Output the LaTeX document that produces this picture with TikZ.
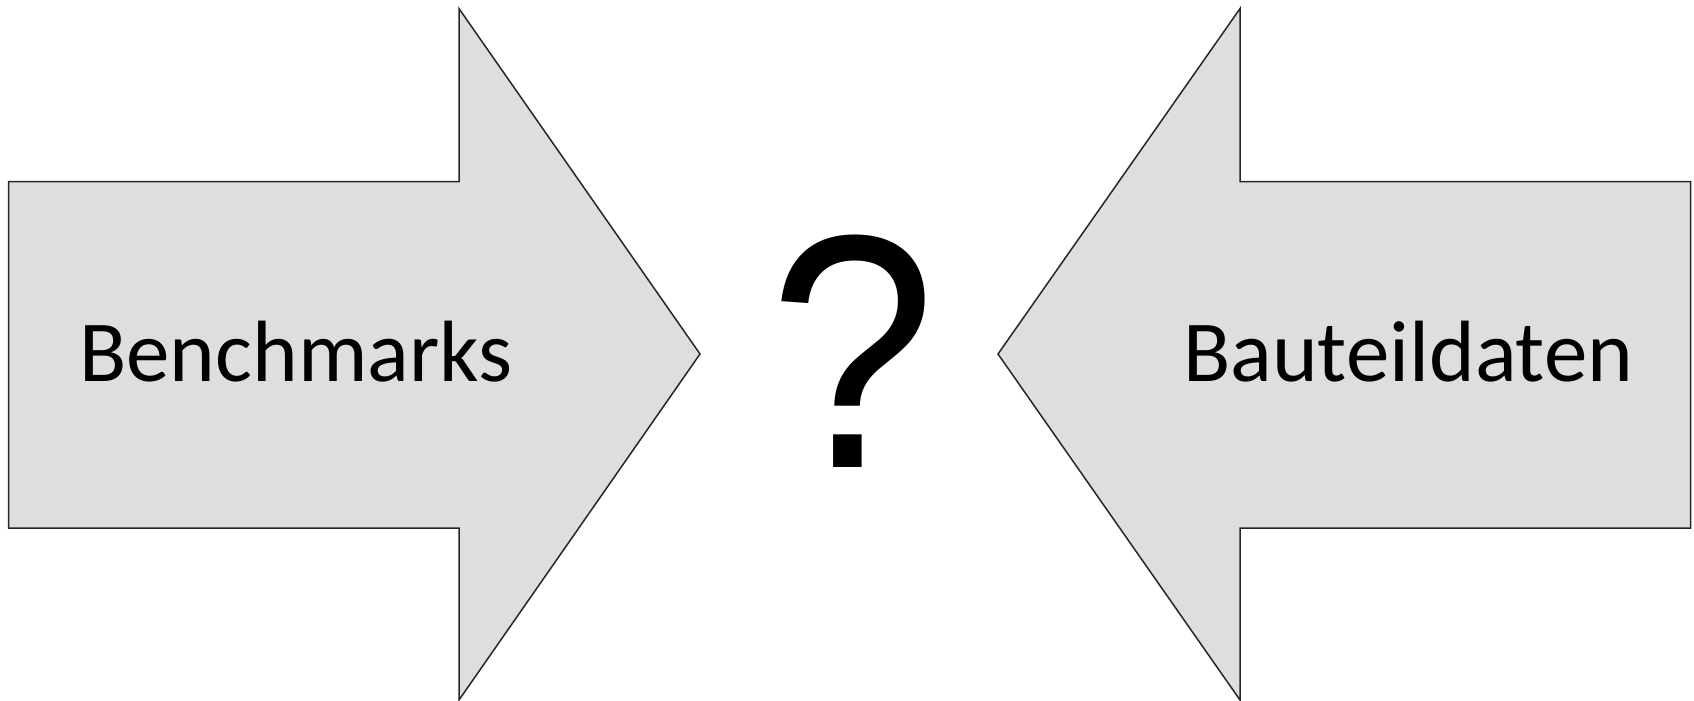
\documentclass[tikz,border=0pt]{standalone}
\usepackage{fontspec}
\usepackage{graphicx}
\setmainfont{Carlito}
\newfontfamily\qfont{Liberation Sans}
\begin{document}
\begin{tikzpicture}[x=1pt, y=-1pt,
  bigarrow/.style={draw=black!85,line width=1.5pt,fill=black!13,line join=miter},
  label/.style={anchor=base west,inner sep=0pt,font=\fontsize{87}{100}\selectfont}]
\useasboundingbox (0,0) rectangle (1694,701);
% left arrow
\draw[bigarrow] (8.6,181.5) -- (459,181.5) -- (459,8.6) -- (700,354) -- (459,700) -- (459,528) -- (8.6,528) -- cycle;
% right arrow
\draw[bigarrow] (1690.5,181.5) -- (1240,181.5) -- (1240,8.6) -- (998,354) -- (1240,700) -- (1240,528) -- (1690.5,528) -- cycle;
\node[label] (bench) at (79,381) {Benchmarks};
\node[label] (bauteil) at (1183,381) {Bauteildaten};
\node[anchor=base,inner sep=0pt,font=\qfont\fontsize{333}{340}\selectfont] (frage) at (853,467) {\scalebox{0.9}[1]{?}};
\end{tikzpicture}
\end{document}
